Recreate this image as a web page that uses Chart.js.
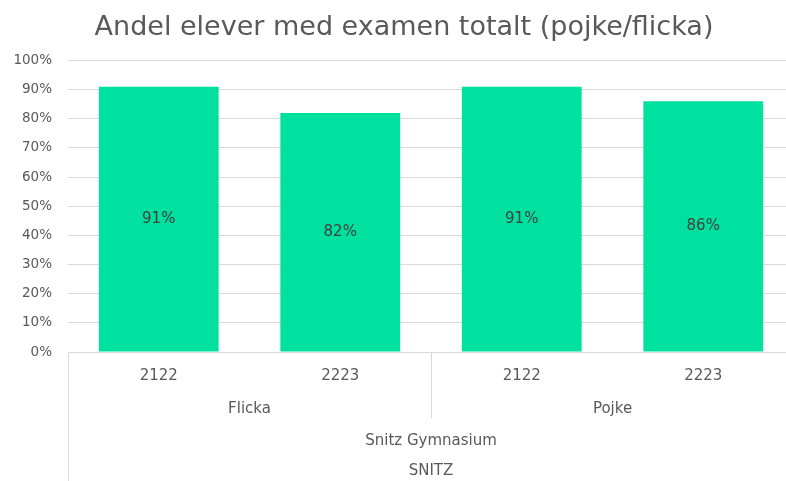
<!DOCTYPE html>
<html>
<head>
<meta charset="utf-8">
<script src="https://cdn.jsdelivr.net/npm/chart.js@4/dist/chart.umd.min.js"></script>
<style>
  html, body { margin: 0; padding: 0; background: #fff; overflow: hidden; width: 786px; height: 481px; }
  #wrap { width: 808px; height: 481px; position: relative; }
</style>
</head>
<body>
<div id="wrap"><canvas id="c" width="808" height="481"></canvas></div>
<script>
const titleText = 'Andel elever med examen totalt (pojke/flicka)';
const years = ['2122', '2223', '2122', '2223'];
const genders = ['Flicka', 'Pojke'];
const schoolLabel = 'Snitz Gymnasium';
const orgLabel = 'SNITZ';
const values = [91, 82, 91, 86];

const FONT = '"DejaVu Sans", sans-serif';
const TXT = '#595959';
const GRID = '#d9d9d9';

const multiLevel = {
  id: 'multiLevel',
  afterDraw(chart) {
    const ctx = chart.ctx;
    const x = chart.scales.x;
    const area = chart.chartArea;
    const bottom = chart.height;
    const n = years.length;
    ctx.save();
    ctx.strokeStyle = GRID;
    ctx.lineWidth = 1;
    ctx.beginPath();
    ctx.moveTo(area.left + 0.5, area.bottom); ctx.lineTo(area.left + 0.5, bottom);
    ctx.moveTo(area.right - 0.5, area.bottom); ctx.lineTo(area.right - 0.5, bottom);
    const midX = Math.round((x.getPixelForValue(1) + x.getPixelForValue(2)) / 2) + 0.5;
    ctx.moveTo(midX, area.bottom); ctx.lineTo(midX, area.bottom + 66);
    ctx.stroke();

    ctx.fillStyle = TXT;
    ctx.textAlign = 'center';
    ctx.textBaseline = 'middle';
    ctx.font = '15px ' + FONT;
    genders.forEach((g, i) => {
      const cx = (x.getPixelForValue(i * 2) + x.getPixelForValue(i * 2 + 1)) / 2;
      ctx.fillText(g, cx, area.bottom + 57);
    });
    const allX = (x.getPixelForValue(0) + x.getPixelForValue(n - 1)) / 2;
    ctx.fillText(schoolLabel, allX, area.bottom + 89);
    ctx.fillText(orgLabel, allX, area.bottom + 119);

    const meta = chart.getDatasetMeta(0);
    ctx.fillStyle = '#404040';
    meta.data.forEach((bar, i) => {
      const cy = (bar.y + bar.base) / 2;
      ctx.fillText(Math.round(values[i]) + '%', bar.x, cy);
    });
    ctx.restore();
  }
};

new Chart(document.getElementById('c'), {
  type: 'bar',
  data: {
    labels: years,
    datasets: [{
      data: values,
      backgroundColor: '#00E09E',
      borderWidth: 0,
      barPercentage: 0.66,
      categoryPercentage: 1.0
    }]
  },
  options: {
    responsive: false,
    animation: false,
    devicePixelRatio: 1,
    layout: { padding: 0 },
    plugins: {
      legend: { display: false },
      tooltip: { enabled: false },
      title: {
        display: true,
        text: titleText,
        color: TXT,
        font: { family: FONT, size: 27, weight: 'normal' },
        padding: { top: 12, bottom: 16 }
      }
    },
    scales: {
      x: {
        grid: { display: false, drawTicks: false },
        border: { display: true, color: GRID },
        ticks: { color: TXT, font: { family: FONT, size: 15 }, padding: 15 },
        afterFit(s) { s.height = 129; }
      },
      y: {
        min: 0, max: 100,
        ticks: {
          stepSize: 10,
          color: TXT,
          font: { family: FONT, size: 13.5 },
          padding: 16,
          callback: v => v + '%'
        },
        grid: { color: GRID, drawTicks: false },
        border: { display: false },
        afterFit(s) { s.width = 68; }
      },
      y2: {
        position: 'right',
        display: true,
        grid: { display: false, drawTicks: false },
        border: { display: false },
        ticks: { display: false },
        afterFit(s) { s.width = 14; }
      }
    }
  },
  plugins: [multiLevel]
});
</script>
</body>
</html>
